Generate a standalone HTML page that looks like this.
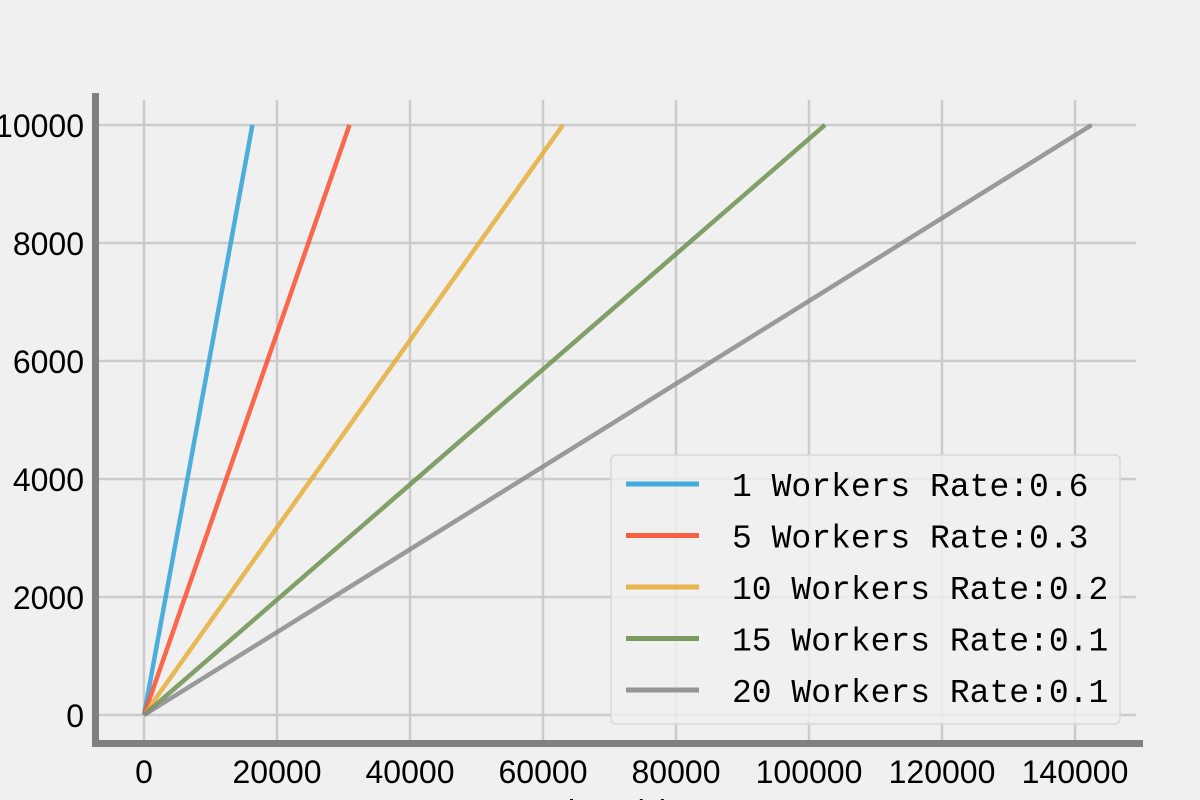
<!DOCTYPE html>
<html><head><meta charset="utf-8">
<style>
html,body{margin:0;padding:0;background:#f0f0f0;width:1200px;height:800px;overflow:hidden}
svg{display:block}
text{font-family:"Liberation Sans","Noto Sans CJK SC",sans-serif;fill:#000}
</style></head>
<body>
<svg id="chart" width="1200" height="800" viewBox="0 0 1200 800">
<rect width="1200" height="800" fill="#f0f0f0"/>
<g id="grid"></g>
<g id="series"></g>
<rect x="92" y="93" width="7" height="654" fill="#808080"/>
<rect x="92" y="740" width="1051" height="7" fill="#808080"/>
<g id="ticks"></g>
<text x="610" y="824" font-size="34" text-anchor="middle">Time (s)</text>
<g id="legend"></g>
</svg>
<script>
const seriesNames = ["1 Workers Rate:0.6","5 Workers Rate:0.3","10 Workers Rate:0.2","15 Workers Rate:0.1","20 Workers Rate:0.1"];
const seriesColors = ["#30a2da","#fc4f30","#e5ae38","#6d904f","#8b8b8b"];
const seriesX = [[0,16300],[0,30900],[0,15100,63000],[0,102400],[0,142500]];
const seriesY = [[0,10000],[0,10000],[0,2400,10000],[0,10000],[0,10000]];
const xTicks = [0,20000,40000,60000,80000,100000,120000,140000];
const yTicks = [0,2000,4000,6000,8000,10000];

const NS="http://www.w3.org/2000/svg";
function xs(v){return 144+v*(1075-144)/140000;}
function ys(v){return 715-v*(715-125)/10000;}
function mk(tag,attrs,parent){const e=document.createElementNS(NS,tag);for(const k in attrs)e.setAttribute(k,attrs[k]);parent.appendChild(e);return e;}
const grid=document.getElementById('grid'),ticks=document.getElementById('ticks'),ser=document.getElementById('series'),leg=document.getElementById('legend');
xTicks.forEach(v=>{
  const l=mk('line',{x1:xs(v),x2:xs(v),y1:100,y2:740,stroke:'#cbcbcb','stroke-width':2.5},grid);
  
  
  const t=mk('text',{x:xs(v),y:783,'font-size':32,'text-anchor':'middle'},ticks);
  t.textContent=v;
  
  
});
yTicks.forEach(v=>{
  const l=mk('line',{x1:99,x2:1136,y1:ys(v),y2:ys(v),stroke:'#cbcbcb','stroke-width':2.5},grid);
  
  
  const t=mk('text',{x:84,y:ys(v)+12,'font-size':32,'text-anchor':'end'},ticks);
  t.textContent=v;
  
  
});
seriesNames.forEach((n,i)=>{
  const pts=seriesX[i].map((x,j)=>xs(x)+','+ys(seriesY[i][j])).join(' ');
  const p=mk('polyline',{points:pts,fill:'none',stroke:seriesColors[i],'stroke-width':4.5,'stroke-opacity':0.85},ser);
  
  
});
const box=mk('rect',{x:611,y:455,width:509,height:269,rx:5,fill:'#f0f0f0','fill-opacity':0.8,stroke:'#d8d8d8','stroke-width':1.5},leg);


seriesNames.forEach((n,i)=>{
  const y=484+i*51.5;
  const l=mk('line',{x1:626,x2:699,y1:y,y2:y,stroke:seriesColors[i],'stroke-width':5,'stroke-opacity':0.9},leg);
  
  
  const t=mk('text',{x:732,y:y+12,'font-size':33,style:'font-family:"Liberation Mono",monospace'},leg);
  t.textContent=n;
  
  
});
</script>
</body></html>
